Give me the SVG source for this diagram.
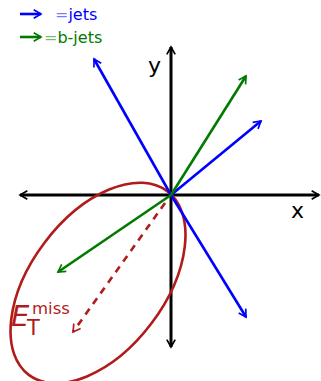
<svg xmlns="http://www.w3.org/2000/svg" width="321" height="381" viewBox="0 0 321 381">
<style>
.ax{stroke:#000;stroke-width:3;fill:none}
.b{stroke:#0000ff;stroke-width:2.6;fill:none}
.g{stroke:#007a00;stroke-width:2.6;fill:none}
.r{stroke:#b01c1c;stroke-width:2.6;fill:none}
text{font-family:"DejaVu Sans",sans-serif}
</style>
<defs>
<marker id="mkb" viewBox="0 0 10 10" refX="8" refY="5" markerWidth="4" markerHeight="4" orient="auto" markerUnits="strokeWidth"><path d="M1,1 L8,5 L1,9" fill="none" stroke="#0000ff" stroke-width="1.6"/></marker>
<marker id="mkg" viewBox="0 0 10 10" refX="8" refY="5" markerWidth="4" markerHeight="4" orient="auto" markerUnits="strokeWidth"><path d="M1,1 L8,5 L1,9" fill="none" stroke="#007a00" stroke-width="1.6"/></marker>
<marker id="mkr" viewBox="0 0 10 10" refX="8" refY="5" markerWidth="4" markerHeight="4" orient="auto" markerUnits="strokeWidth"><path d="M1,1 L8,5 L1,9" fill="none" stroke="#b01c1c" stroke-width="1.6"/></marker>
<marker id="mka" viewBox="0 0 10 10" refX="8" refY="5" markerWidth="3.5" markerHeight="3.5" orient="auto" markerUnits="strokeWidth"><path d="M1,1 L8,5 L1,9" fill="none" stroke="#000" stroke-width="1.6"/></marker>
</defs>
<g id="axes">
<line class="ax" x1="171" y1="195" x2="20" y2="195" marker-end="url(#mka)"/>
<line class="ax" x1="171" y1="195" x2="319" y2="195" marker-end="url(#mka)"/>
<line class="ax" x1="171" y1="195" x2="171" y2="47" marker-end="url(#mka)"/>
<line class="ax" x1="171" y1="195" x2="171" y2="347" marker-end="url(#mka)"/>
<text x="148" y="73" font-size="22">y</text>
<text x="291" y="218" font-size="22">x</text>
</g>
<g id="met-ellipse">
<ellipse class="r" cx="98" cy="283" rx="115" ry="67" transform="rotate(-53 98 283)"/>
</g>
<g id="connectors">
<line class="b" x1="171" y1="195" x2="94" y2="59" marker-end="url(#mkb)"/>
<line class="b" x1="171" y1="195" x2="261" y2="121" marker-end="url(#mkb)"/>
<line class="b" x1="171" y1="195" x2="246" y2="317" marker-end="url(#mkb)"/>
<line class="g" x1="171" y1="195" x2="246" y2="76" marker-end="url(#mkg)"/>
<line class="g" x1="171" y1="195" x2="58" y2="272" marker-end="url(#mkg)"/>
<line class="r" x1="165" y1="203" x2="73" y2="332" stroke-dasharray="7,6" marker-end="url(#mkr)"/>
</g>
<g id="met-label">
<text x="11" y="326" font-size="29" font-style="italic" fill="#b01c1c">E</text>
<text x="27" y="335" font-size="21" fill="#b01c1c">T</text>
<text x="32" y="314" font-size="16.5" fill="#b01c1c">miss</text>
</g>
<g id="legend">
<line class="b" x1="20" y1="14" x2="41" y2="14" stroke-width="3.4" marker-end="url(#mkb)"/>
<text x="55" y="20" font-size="16" fill="#0000ff"><tspan fill-opacity="0.55">=</tspan>jets</text>
<line class="g" x1="20" y1="37" x2="41" y2="37" stroke-width="3.4" marker-end="url(#mkg)"/>
<text x="44" y="43" font-size="16" fill="#007a00"><tspan fill-opacity="0.55">=</tspan>b-jets</text>
</g>
</svg>
